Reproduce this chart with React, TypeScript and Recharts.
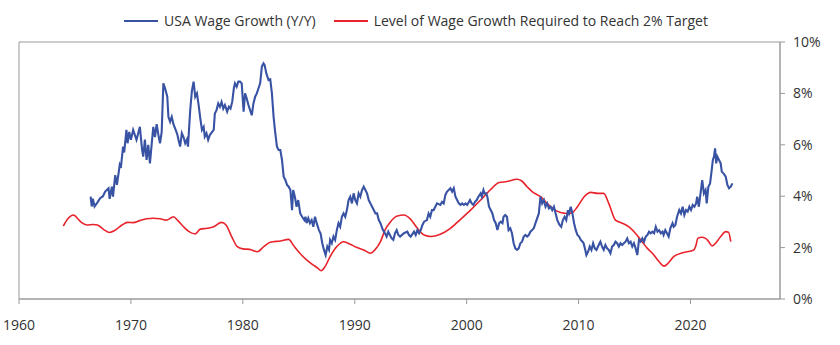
import React from 'react';
import { LineChart, Line, XAxis, YAxis, Legend, ReferenceArea } from 'recharts';

// USA wage growth, y/y %
const wageYears = [
  1966.4, 1966.5, 1966.6, 1966.75, 1967.0, 1967.25, 1967.5, 1967.7, 1968.0, 1968.1, 1968.3, 1968.4, 1968.6, 1968.75,
  1969.0, 1969.1, 1969.3, 1969.4, 1969.6, 1969.7, 1969.85, 1970.0, 1970.2, 1970.5, 1970.8, 1971.0, 1971.1, 1971.25,
  1971.4, 1971.55, 1971.7, 1971.85, 1972.0, 1972.15, 1972.3, 1972.45, 1972.6, 1972.75, 1972.9, 1973.05, 1973.25, 1973.35,
  1973.5, 1973.65, 1973.8, 1974.0, 1974.15, 1974.25, 1974.4, 1974.55, 1974.7, 1974.85, 1975.0, 1975.1, 1975.3, 1975.45,
  1975.6, 1975.75, 1975.9, 1976.05, 1976.2, 1976.35, 1976.5, 1976.6, 1976.75, 1976.9, 1977.05, 1977.4, 1977.5, 1977.65,
  1977.8, 1977.95, 1978.1, 1978.25, 1978.4, 1978.6, 1978.75, 1978.9, 1979.05, 1979.2, 1979.3, 1979.45, 1979.6, 1979.75,
  1979.9, 1980.07, 1980.2, 1980.35, 1980.5, 1980.65, 1980.8, 1980.95, 1981.1, 1981.25, 1981.4, 1981.55, 1981.7, 1981.85,
  1981.95, 1982.1, 1982.3, 1982.45, 1982.6, 1982.75, 1982.9, 1983.05, 1983.2, 1983.35, 1983.5, 1983.65, 1983.8, 1983.95,
  1984.1, 1984.25, 1984.4, 1984.5, 1984.65, 1984.8, 1984.95, 1985.13, 1985.3, 1985.5, 1985.6, 1985.7, 1985.85, 1986.0,
  1986.15, 1986.3, 1986.45, 1986.6, 1986.8, 1986.95, 1987.1, 1987.25, 1987.4, 1987.55, 1987.7, 1987.8, 1987.95, 1988.1,
  1988.25, 1988.4, 1988.55, 1988.7, 1988.85, 1989.0, 1989.15, 1989.3, 1989.45, 1989.6, 1989.75, 1989.9, 1990.05, 1990.2,
  1990.35, 1990.5, 1990.65, 1990.8, 1990.95, 1991.1, 1991.25, 1991.4, 1991.7, 1991.85, 1992.0, 1992.15, 1992.3, 1992.5,
  1992.7, 1992.85, 1993.0, 1993.3, 1993.45, 1993.6, 1993.75, 1993.9, 1994.05, 1994.4, 1994.7, 1994.85, 1995.0, 1995.3,
  1995.45, 1995.6, 1995.75, 1995.9, 1996.05, 1996.2, 1996.45, 1996.6, 1996.75, 1996.9, 1997.05, 1997.2, 1997.35, 1997.65,
  1997.8, 1997.95, 1998.1, 1998.25, 1998.4, 1998.55, 1998.7, 1998.85, 1999.0, 1999.15, 1999.3, 1999.45, 1999.6, 1999.75,
  1999.9, 2000.05, 2000.3, 2000.45, 2000.6, 2000.75, 2000.9, 2001.05, 2001.25, 2001.35, 2001.5, 2001.6, 2001.75, 2001.85,
  2002.0, 2002.15, 2002.3, 2002.45, 2002.6, 2002.75, 2002.9, 2003.05, 2003.2, 2003.3, 2003.45, 2003.6, 2003.75, 2003.9,
  2004.05, 2004.2, 2004.35, 2004.5, 2004.65, 2004.8, 2004.95, 2005.1, 2005.25, 2005.4, 2005.55, 2005.7, 2005.85, 2006.0,
  2006.15, 2006.3, 2006.45, 2006.6, 2006.75, 2006.9, 2007.05, 2007.2, 2007.35, 2007.5, 2007.65, 2007.8, 2007.95, 2008.1,
  2008.3, 2008.45, 2008.6, 2008.75, 2008.9, 2009.05, 2009.15, 2009.3, 2009.45, 2009.6, 2009.75, 2009.9, 2010.05, 2010.2,
  2010.35, 2010.45, 2010.6, 2010.7, 2010.85, 2011.0, 2011.15, 2011.3, 2011.45, 2011.6, 2011.8, 2011.95, 2012.1, 2012.25,
  2012.4, 2012.55, 2012.7, 2012.85, 2013.0, 2013.15, 2013.3, 2013.45, 2013.6, 2013.75, 2013.9, 2014.05, 2014.2, 2014.35,
  2014.5, 2014.65, 2014.8, 2014.95, 2015.1, 2015.25, 2015.4, 2015.55, 2015.7, 2015.85, 2016.0, 2016.15, 2016.3, 2016.45,
  2016.6, 2016.75, 2016.9, 2017.05, 2017.2, 2017.35, 2017.5, 2017.6, 2017.75, 2017.9, 2018.05, 2018.2, 2018.4, 2018.5,
  2018.65, 2018.8, 2019.0, 2019.15, 2019.3, 2019.45, 2019.6, 2019.75, 2019.9, 2020.05, 2020.2, 2020.35, 2020.5, 2020.6,
  2020.75, 2020.9, 2021.05, 2021.2, 2021.35, 2021.45, 2021.6, 2021.75, 2021.9, 2022.0, 2022.1, 2022.2, 2022.3, 2022.4,
  2022.55, 2022.7, 2022.8, 2022.95, 2023.15, 2023.3, 2023.45, 2023.6, 2023.75,
];
const wageValues = [
  3.98, 3.6, 3.9, 3.6, 3.75, 3.92, 4.0, 4.18, 4.31, 3.9, 4.37, 3.98, 4.82, 4.44,
  5.21, 5.1, 5.93, 5.7, 6.58, 6.06, 6.5, 6.2, 6.58, 6.19, 6.7, 5.8, 5.54, 6.2,
  5.41, 6.0, 5.28, 6.0, 6.7, 6.3, 6.8, 6.4, 6.06, 6.5, 8.39, 8.2, 7.87, 7.09,
  6.9, 7.09, 6.8, 6.58, 6.4, 6.2, 5.93, 6.45, 6.3, 6.06, 6.2, 5.93, 7.35, 8.1,
  8.46, 7.87, 8.0, 7.55, 7.03, 6.58, 6.7, 6.32, 6.45, 6.19, 6.38, 6.58, 7.22, 7.35,
  7.61, 7.48, 7.67, 7.41, 7.55, 7.29, 7.48, 7.41, 7.67, 8.2, 8.39, 8.26, 8.46, 8.46,
  8.39, 7.29, 8.0, 7.8, 7.55, 7.35, 7.15, 7.61, 7.87, 8.0, 8.2, 8.39, 9.04, 9.17,
  9.1, 8.78, 8.52, 8.55, 8.0, 7.09, 6.45, 5.93, 5.8, 5.8, 5.41, 4.76, 4.63, 4.44,
  4.37, 4.24, 3.46, 4.24, 3.98, 3.59, 3.85, 3.33, 3.2, 3.07, 3.2, 2.95, 3.14, 2.95,
  3.07, 2.81, 3.2, 2.95, 2.68, 2.55, 2.17, 1.91, 1.71, 2.04, 1.91, 2.3, 2.17, 2.43,
  2.3, 2.68, 2.95, 2.81, 3.2, 3.33, 3.2, 3.46, 3.85, 3.98, 3.72, 4.11, 3.85, 3.72,
  4.11, 3.98, 4.24, 4.37, 4.24, 4.11, 3.85, 3.72, 3.46, 3.33, 3.33, 3.07, 2.95, 2.7,
  2.56, 2.43, 2.62, 2.36, 2.3, 2.56, 2.68, 2.49, 2.43, 2.56, 2.62, 2.49, 2.43, 2.62,
  2.49, 2.68, 2.56, 2.68, 2.88, 3.01, 3.07, 3.33, 3.2, 3.46, 3.46, 3.59, 3.72, 3.66,
  3.78, 3.72, 4.05, 4.18, 4.24, 4.31, 4.18, 4.31, 3.98, 3.85, 3.72, 3.66, 3.72, 3.66,
  3.72, 3.66, 3.85, 3.72, 3.66, 3.78, 3.85, 3.98, 4.11, 3.98, 4.24, 4.11, 4.11, 3.98,
  3.59, 3.46, 3.33, 3.07, 2.95, 2.68, 2.95, 3.01, 2.95, 3.2, 3.27, 3.2, 2.68, 2.75,
  2.56, 2.17, 1.97, 1.91, 1.97, 2.17, 2.23, 2.43, 2.49, 2.43, 2.49, 2.62, 2.68, 2.75,
  2.95, 3.14, 3.33, 3.98, 3.72, 3.85, 3.59, 3.72, 3.53, 3.59, 3.46, 3.59, 3.33, 3.07,
  2.88, 2.81, 3.07, 3.2, 3.07, 3.46, 3.33, 3.59, 3.33, 2.95, 2.68, 2.49, 2.43, 2.3,
  2.23, 2.17, 1.91, 1.71, 1.84, 2.04, 1.91, 2.17, 1.97, 1.91, 2.1, 2.23, 2.04, 1.91,
  2.1, 1.97, 1.91, 1.78, 2.04, 2.1, 2.23, 2.17, 2.04, 2.17, 2.1, 2.17, 2.23, 2.36,
  2.17, 2.23, 2.04, 2.17, 1.97, 1.71, 2.3, 2.23, 2.36, 2.23, 2.43, 2.49, 2.62, 2.56,
  2.62, 2.56, 2.81, 2.62, 2.68, 2.56, 2.62, 2.49, 2.68, 2.56, 2.43, 2.75, 2.95, 2.81,
  2.88, 3.2, 3.46, 3.33, 3.59, 3.27, 3.46, 3.4, 3.59, 3.46, 3.66, 3.59, 3.72, 3.98,
  3.59, 4.11, 4.63, 4.11, 4.24, 3.72, 4.37, 4.5, 5.02, 5.41, 5.54, 5.86, 5.28, 5.54,
  5.41, 5.28, 4.95, 4.89, 4.76, 4.44, 4.31, 4.37, 4.5,
];

// wage growth needed to reach the 2% target, %
const targetYears = [
  1963.96, 1964.4, 1964.86, 1965.1, 1965.6, 1966.05, 1966.65, 1967.0, 1967.55, 1968.1, 1968.6, 1969.2, 1969.7, 1970.2,
  1970.8, 1971.4, 1972.0, 1972.6, 1973.2, 1973.8, 1974.2, 1974.7, 1975.2, 1975.75, 1976.2, 1976.8, 1977.4, 1978.1,
  1978.5, 1979.0, 1979.5, 1980.0, 1980.6, 1981.3, 1981.9, 1982.45, 1983.35, 1984.1, 1984.5, 1985.1, 1985.7, 1986.3,
  1986.7, 1987.0, 1987.35, 1987.8, 1988.4, 1989.0, 1989.5, 1990.2, 1990.8, 1991.4, 1991.8, 1992.3, 1992.7, 1993.2,
  1993.8, 1994.4, 1995.0, 1995.6, 1996.2, 1996.8, 1997.65, 1998.55, 1999.45, 2000.35, 2001.25, 2002.1, 2002.9, 2003.6,
  2004.5, 2004.9, 2005.4, 2005.85, 2006.6, 2007.2, 2007.8, 2008.4, 2009.0, 2009.4, 2009.9, 2010.5, 2011.1, 2011.7,
  2012.25, 2012.7, 2013.3, 2013.9, 2014.5, 2015.0, 2015.55, 2016.15, 2016.6, 2017.2, 2017.65, 2018.0, 2018.5, 2019.3,
  2020.3, 2020.5, 2020.65, 2021.0, 2021.35, 2021.6, 2021.95, 2022.3, 2022.7, 2023.15, 2023.4, 2023.6,
];
const targetValues = [
  2.84, 3.14, 3.27, 3.2, 2.97, 2.88, 2.9, 2.88, 2.71, 2.59, 2.68, 2.88, 2.98, 2.97,
  3.05, 3.12, 3.14, 3.12, 3.07, 3.2, 3.05, 2.81, 2.62, 2.53, 2.72, 2.75, 2.81, 2.98,
  2.88, 2.43, 2.04, 1.95, 1.93, 1.84, 2.05, 2.21, 2.26, 2.32, 2.1, 1.78, 1.52, 1.32,
  1.2, 1.1, 1.26, 1.65, 2.04, 2.23, 2.15, 2.0, 1.91, 1.78, 1.91, 2.23, 2.68, 3.01,
  3.23, 3.27, 3.1, 2.75, 2.49, 2.43, 2.52, 2.75, 3.1, 3.46, 3.85, 4.24, 4.53, 4.57,
  4.66, 4.6, 4.37, 4.18, 3.98, 3.72, 3.49, 3.37, 3.33, 3.35, 3.59, 3.98, 4.15, 4.11,
  4.11, 3.72, 3.07, 2.95, 2.81, 2.6, 2.3, 1.97, 1.78, 1.45, 1.28, 1.39, 1.65, 1.8,
  1.91, 2.1, 2.36, 2.4, 2.36, 2.25, 2.06, 2.2, 2.43, 2.62, 2.6, 2.23,
];

const xTicks = [1960, 1970, 1980, 1990, 2000, 2010, 2020];
const yTicks = [0, 2, 4, 6, 8, 10];

const wageData = wageYears.map((year, i) => ({ year, value: wageValues[i] }));
const targetData = targetYears.map((year, i) => ({ year, value: targetValues[i] }));

const BLUE = '#3953a4';
const RED = '#e8232b';
const AXIS = '#9a9a9a';
const FONT = '"Open Sans", sans-serif';

const legendItems = [
  { label: 'USA Wage Growth (Y/Y)', color: BLUE },
  { label: 'Level of Wage Growth Required to Reach 2% Target', color: RED },
];

const renderLegend = () => (
  <div style={{ display: 'flex', justifyContent: 'center', fontFamily: FONT, fontSize: 14, color: '#333', paddingRight: 8 }}>
    {legendItems.map((item, i) => (
      <div key={item.label} style={{ display: 'flex', alignItems: 'center', marginLeft: i ? 18 : 0 }}>
        <span style={{ display: 'inline-block', width: 34, height: 2, background: item.color, marginRight: 6 }} />
        <span>{item.label}</span>
      </div>
    ))}
  </div>
);

export default function App() {
  return (
    <div style={{ position: 'absolute', left: 0, top: 0, width: 840, height: 345 }}>
      <LineChart width={840} height={345} margin={{ top: 42, right: 10, bottom: 16, left: 19 }}>
        <ReferenceArea x1={1960} x2={2028} y1={0} y2={10} fill="none" stroke={AXIS} strokeWidth={1} />
        <XAxis
          dataKey="year"
          type="number"
          domain={[1960, 2028]}
          ticks={xTicks}
          interval={0}
          allowDuplicatedCategory={false}
          height={30}
          tickSize={5}
          tickMargin={16}
          stroke={AXIS}
          tick={{ fill: '#333', fontSize: 14, fontFamily: FONT }}
        />
        <YAxis
          orientation="right"
          type="number"
          domain={[0, 10]}
          ticks={yTicks}
          interval={0}
          width={50}
          tickSize={5}
          tickMargin={8}
          stroke={AXIS}
          tickFormatter={(v: number) => `${v}%`}
          tick={{ fill: '#333', fontSize: 14, fontFamily: FONT }}
        />
        <Legend verticalAlign="top" content={renderLegend} wrapperStyle={{ top: 11, left: 0, width: 840, height: 0 }} />
        <Line
          data={targetData}
          dataKey="value"
          type="monotone"
          stroke={RED}
          strokeWidth={1.6}
          dot={false}
          isAnimationActive={false}
        />
        <Line
          data={wageData}
          dataKey="value"
          type="linear"
          stroke={BLUE}
          strokeWidth={2.1}
          dot={false}
          isAnimationActive={false}
        />
      </LineChart>
    </div>
  );
}
